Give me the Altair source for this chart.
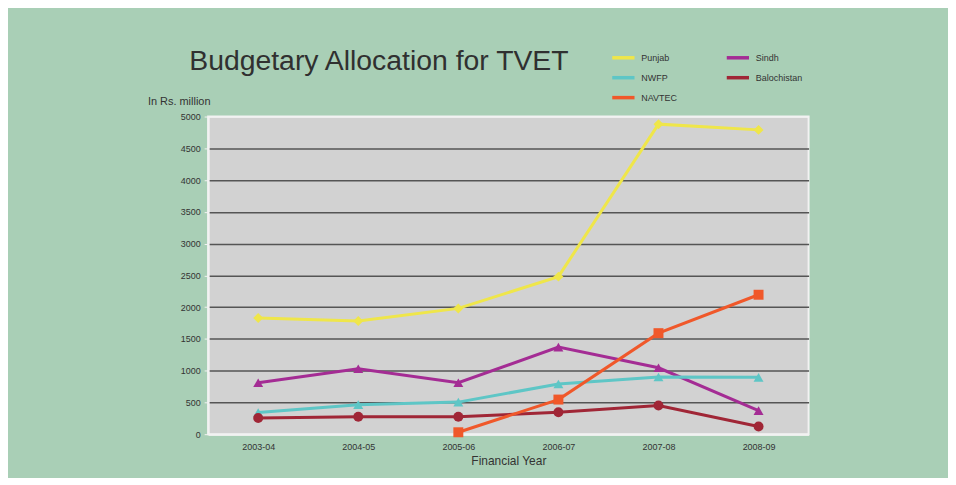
import altair as alt
import pandas as pd

years = ["2003-04", "2004-05", "2005-06", "2006-07", "2007-08", "2008-09"]
series_names = ["Punjab", "Sindh", "NWFP", "Balochistan", "NAVTEC"]
punjab = [1830, 1780, 1980, 2480, 4880, 4790]
sindh = [810, 1030, 810, 1370, 1045, 370]
nwfp = [340, 465, 505, 790, 900, 895]
balochistan = [255, 275, 275, 345, 450, 120]
navtec = [None, None, 30, 545, 1590, 2195]

colors = ["#efe64a", "#a42c94", "#5ec6c6", "#a02636", "#f0582a"]
shapes = ["diamond", "triangle-up", "triangle-up", "circle", "square"]

values = [punjab, sindh, nwfp, balochistan, navtec]
rows = []
for name, vals in zip(series_names, values):
    for yr, v in zip(years, vals):
        if v is not None:
            rows.append({"Year": yr, "Region": name, "Marker": name, "Value": v})
df = pd.DataFrame(rows)

FONT = "Liberation Sans"

x = alt.X("Year:N", sort=years,
          scale=alt.Scale(type="point", padding=0.5),
          axis=alt.Axis(title="Financial Year", labelAngle=0, labelFontSize=9,
                        labelColor="#333333", titleFontSize=12, titleFontWeight="normal",
                        titleColor="#333333", ticks=False, labelPadding=8,
                        domainColor="#f2f2f2", domainWidth=2, titlePadding=4,
                        labelFont=FONT, titleFont=FONT))
y = alt.Y("Value:Q",
          scale=alt.Scale(domain=[0, 5000], nice=False),
          axis=alt.Axis(title="In Rs. million", values=list(range(0, 5001, 500)), format="d",
                        labelFontSize=9, labelColor="#333333", tickColor="#f2f2f2",
                        tickSize=4, labelPadding=4, domainColor="#f2f2f2", domainWidth=2,
                        gridColor=alt.condition("datum.value == 0 || datum.value == 5000",
                                                alt.value("#f2f2f2"), alt.value("#555555")),
                        gridWidth=1.5,
                        titleAngle=0, titleAlign="left", titleBaseline="alphabetic",
                        titleX=-61, titleY=-12, titleFontSize=11,
                        titleFontWeight="normal", titleColor="#333333",
                        labelFont=FONT, titleFont=FONT))
color = alt.Color("Region:N",
                  scale=alt.Scale(domain=series_names, range=colors),
                  legend=alt.Legend(title=None, orient="none", legendX=404, legendY=-72,
                                    columns=2, direction="horizontal",
                                    symbolType="stroke", symbolStrokeWidth=3.5,
                                    symbolSize=500, labelFontSize=9, labelColor="#333333",
                                    labelFont=FONT, columnPadding=42, rowPadding=-2,
                                    labelOffset=5))
shape = alt.Shape("Marker:N", scale=alt.Scale(domain=series_names, range=shapes), legend=None)

lines = alt.Chart(df).mark_line(strokeWidth=3).encode(x=x, y=y, color=color)
points = alt.Chart(df).mark_point(filled=True, size=100, opacity=1).encode(
    x=x, y=y,
    color=alt.Color("Marker:N", scale=alt.Scale(domain=series_names, range=colors), legend=None),
    shape=shape)

chart = alt.layer(lines, points).resolve_scale(color="independent").properties(
    width=603, height=319,
    padding={"left": 201, "top": 108, "right": 140, "bottom": 43},
    autosize=alt.AutoSizeParams(type="none"),
    background="#a9cfb6",
    title=alt.TitleParams("Budgetary Allocation for TVET", anchor="start", frame="group",
                          fontSize=28.5, font=FONT, fontWeight="normal", color="#303030",
                          dx=-19, dy=59, offset=28),
).configure_view(fill="#d2d2d2", stroke="#f2f2f2", strokeWidth=2)

chart.save("out.html", embed_options={"renderer": "svg", "actions": False})
